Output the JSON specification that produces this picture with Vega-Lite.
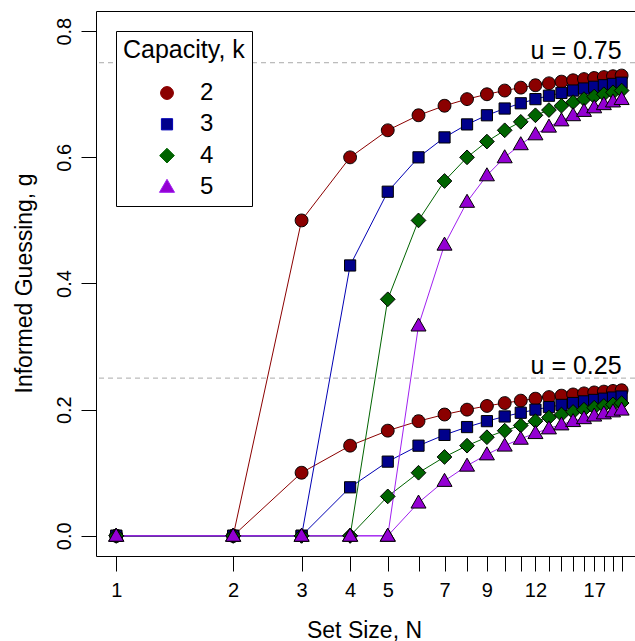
{
  "$schema": "https://vega.github.io/schema/vega-lite/v6.json",
  "width": 539,
  "height": 545,
  "autosize": "none",
  "padding": {"left": 96, "top": 11, "right": 0, "bottom": 85},
  "background": "white",
  "config": {
    "view": {"stroke": "black", "strokeWidth": 1},
    "font": "Liberation Sans",
    "axis": {"grid": false, "domain": false, "tickColor": "black", "tickWidth": 1, "tickSize": 15, "labelColor": "black", "titleColor": "black", "labelFont": "Liberation Sans", "titleFont": "Liberation Sans", "labelFontSize": 20, "titleFontSize": 23, "titleFontWeight": "normal"},
    "legend": {"strokeColor": "black", "fillColor": "white", "padding": 7, "titleFont": "Liberation Sans", "labelFont": "Liberation Sans", "titleFontSize": 25, "titleFontWeight": "normal", "titleColor": "black", "labelFontSize": 24, "labelColor": "black", "titlePadding": 18, "rowPadding": 7.3, "symbolOffset": 32, "labelOffset": 21, "symbolSize": 256, "symbolStrokeColor": "black", "symbolStrokeWidth": 1}
  },
  "datasets": {
    "refs": [{"u": 0.75, "label": "u = 0.75"}, {"u": 0.25, "label": "u = 0.25"}],
    "curves": [
      {"k":2,"u":0.75,"N":1,"g":0},{"k":2,"u":0.75,"N":2,"g":0},{"k":2,"u":0.75,"N":3,"g":0.5},{"k":2,"u":0.75,"N":4,"g":0.6},{"k":2,"u":0.75,"N":5,"g":0.6429},{"k":2,"u":0.75,"N":6,"g":0.6667},{"k":2,"u":0.75,"N":7,"g":0.6818},{"k":2,"u":0.75,"N":8,"g":0.6923},{"k":2,"u":0.75,"N":9,"g":0.7},{"k":2,"u":0.75,"N":10,"g":0.7059},{"k":2,"u":0.75,"N":11,"g":0.7105},{"k":2,"u":0.75,"N":12,"g":0.7143},{"k":2,"u":0.75,"N":13,"g":0.7174},{"k":2,"u":0.75,"N":14,"g":0.72},{"k":2,"u":0.75,"N":15,"g":0.7222},{"k":2,"u":0.75,"N":16,"g":0.7241},{"k":2,"u":0.75,"N":17,"g":0.7258},{"k":2,"u":0.75,"N":18,"g":0.7273},{"k":2,"u":0.75,"N":19,"g":0.7286},{"k":2,"u":0.75,"N":20,"g":0.7297},
      {"k":2,"u":0.25,"N":1,"g":0},{"k":2,"u":0.25,"N":2,"g":0},{"k":2,"u":0.25,"N":3,"g":0.1},{"k":2,"u":0.25,"N":4,"g":0.1429},{"k":2,"u":0.25,"N":5,"g":0.1667},{"k":2,"u":0.25,"N":6,"g":0.1818},{"k":2,"u":0.25,"N":7,"g":0.1923},{"k":2,"u":0.25,"N":8,"g":0.2},{"k":2,"u":0.25,"N":9,"g":0.2059},{"k":2,"u":0.25,"N":10,"g":0.2105},{"k":2,"u":0.25,"N":11,"g":0.2143},{"k":2,"u":0.25,"N":12,"g":0.2174},{"k":2,"u":0.25,"N":13,"g":0.22},{"k":2,"u":0.25,"N":14,"g":0.2222},{"k":2,"u":0.25,"N":15,"g":0.2241},{"k":2,"u":0.25,"N":16,"g":0.2258},{"k":2,"u":0.25,"N":17,"g":0.2273},{"k":2,"u":0.25,"N":18,"g":0.2286},{"k":2,"u":0.25,"N":19,"g":0.2297},{"k":2,"u":0.25,"N":20,"g":0.2308},
      {"k":3,"u":0.75,"N":1,"g":0},{"k":3,"u":0.75,"N":2,"g":0},{"k":3,"u":0.75,"N":3,"g":0},{"k":3,"u":0.75,"N":4,"g":0.4286},{"k":3,"u":0.75,"N":5,"g":0.5455},{"k":3,"u":0.75,"N":6,"g":0.6},{"k":3,"u":0.75,"N":7,"g":0.6316},{"k":3,"u":0.75,"N":8,"g":0.6522},{"k":3,"u":0.75,"N":9,"g":0.6667},{"k":3,"u":0.75,"N":10,"g":0.6774},{"k":3,"u":0.75,"N":11,"g":0.6857},{"k":3,"u":0.75,"N":12,"g":0.6923},{"k":3,"u":0.75,"N":13,"g":0.6977},{"k":3,"u":0.75,"N":14,"g":0.7021},{"k":3,"u":0.75,"N":15,"g":0.7059},{"k":3,"u":0.75,"N":16,"g":0.7091},{"k":3,"u":0.75,"N":17,"g":0.7119},{"k":3,"u":0.75,"N":18,"g":0.7143},{"k":3,"u":0.75,"N":19,"g":0.7164},{"k":3,"u":0.75,"N":20,"g":0.7183},
      {"k":3,"u":0.25,"N":1,"g":0},{"k":3,"u":0.25,"N":2,"g":0},{"k":3,"u":0.25,"N":3,"g":0},{"k":3,"u":0.25,"N":4,"g":0.0769},{"k":3,"u":0.25,"N":5,"g":0.1176},{"k":3,"u":0.25,"N":6,"g":0.1429},{"k":3,"u":0.25,"N":7,"g":0.16},{"k":3,"u":0.25,"N":8,"g":0.1724},{"k":3,"u":0.25,"N":9,"g":0.1818},{"k":3,"u":0.25,"N":10,"g":0.1892},{"k":3,"u":0.25,"N":11,"g":0.1951},{"k":3,"u":0.25,"N":12,"g":0.2},{"k":3,"u":0.25,"N":13,"g":0.2041},{"k":3,"u":0.25,"N":14,"g":0.2075},{"k":3,"u":0.25,"N":15,"g":0.2105},{"k":3,"u":0.25,"N":16,"g":0.2131},{"k":3,"u":0.25,"N":17,"g":0.2154},{"k":3,"u":0.25,"N":18,"g":0.2174},{"k":3,"u":0.25,"N":19,"g":0.2192},{"k":3,"u":0.25,"N":20,"g":0.2208},
      {"k":4,"u":0.75,"N":1,"g":0},{"k":4,"u":0.75,"N":2,"g":0},{"k":4,"u":0.75,"N":3,"g":0},{"k":4,"u":0.75,"N":4,"g":0},{"k":4,"u":0.75,"N":5,"g":0.375},{"k":4,"u":0.75,"N":6,"g":0.5},{"k":4,"u":0.75,"N":7,"g":0.5625},{"k":4,"u":0.75,"N":8,"g":0.6},{"k":4,"u":0.75,"N":9,"g":0.625},{"k":4,"u":0.75,"N":10,"g":0.6429},{"k":4,"u":0.75,"N":11,"g":0.6563},{"k":4,"u":0.75,"N":12,"g":0.6667},{"k":4,"u":0.75,"N":13,"g":0.675},{"k":4,"u":0.75,"N":14,"g":0.6818},{"k":4,"u":0.75,"N":15,"g":0.6875},{"k":4,"u":0.75,"N":16,"g":0.6923},{"k":4,"u":0.75,"N":17,"g":0.6964},{"k":4,"u":0.75,"N":18,"g":0.7},{"k":4,"u":0.75,"N":19,"g":0.7031},{"k":4,"u":0.75,"N":20,"g":0.7059},
      {"k":4,"u":0.25,"N":1,"g":0},{"k":4,"u":0.25,"N":2,"g":0},{"k":4,"u":0.25,"N":3,"g":0},{"k":4,"u":0.25,"N":4,"g":0},{"k":4,"u":0.25,"N":5,"g":0.0625},{"k":4,"u":0.25,"N":6,"g":0.1},{"k":4,"u":0.25,"N":7,"g":0.125},{"k":4,"u":0.25,"N":8,"g":0.1429},{"k":4,"u":0.25,"N":9,"g":0.1563},{"k":4,"u":0.25,"N":10,"g":0.1667},{"k":4,"u":0.25,"N":11,"g":0.175},{"k":4,"u":0.25,"N":12,"g":0.1818},{"k":4,"u":0.25,"N":13,"g":0.1875},{"k":4,"u":0.25,"N":14,"g":0.1923},{"k":4,"u":0.25,"N":15,"g":0.1964},{"k":4,"u":0.25,"N":16,"g":0.2},{"k":4,"u":0.25,"N":17,"g":0.2031},{"k":4,"u":0.25,"N":18,"g":0.2059},{"k":4,"u":0.25,"N":19,"g":0.2083},{"k":4,"u":0.25,"N":20,"g":0.2105},
      {"k":5,"u":0.75,"N":1,"g":0},{"k":5,"u":0.75,"N":2,"g":0},{"k":5,"u":0.75,"N":3,"g":0},{"k":5,"u":0.75,"N":4,"g":0},{"k":5,"u":0.75,"N":5,"g":0},{"k":5,"u":0.75,"N":6,"g":0.3333},{"k":5,"u":0.75,"N":7,"g":0.4615},{"k":5,"u":0.75,"N":8,"g":0.5294},{"k":5,"u":0.75,"N":9,"g":0.5714},{"k":5,"u":0.75,"N":10,"g":0.6},{"k":5,"u":0.75,"N":11,"g":0.6207},{"k":5,"u":0.75,"N":12,"g":0.6364},{"k":5,"u":0.75,"N":13,"g":0.6486},{"k":5,"u":0.75,"N":14,"g":0.6585},{"k":5,"u":0.75,"N":15,"g":0.6667},{"k":5,"u":0.75,"N":16,"g":0.6735},{"k":5,"u":0.75,"N":17,"g":0.6792},{"k":5,"u":0.75,"N":18,"g":0.6842},{"k":5,"u":0.75,"N":19,"g":0.6885},{"k":5,"u":0.75,"N":20,"g":0.6923},
      {"k":5,"u":0.25,"N":1,"g":0},{"k":5,"u":0.25,"N":2,"g":0},{"k":5,"u":0.25,"N":3,"g":0},{"k":5,"u":0.25,"N":4,"g":0},{"k":5,"u":0.25,"N":5,"g":0},{"k":5,"u":0.25,"N":6,"g":0.0526},{"k":5,"u":0.25,"N":7,"g":0.087},{"k":5,"u":0.25,"N":8,"g":0.1111},{"k":5,"u":0.25,"N":9,"g":0.129},{"k":5,"u":0.25,"N":10,"g":0.1429},{"k":5,"u":0.25,"N":11,"g":0.1538},{"k":5,"u":0.25,"N":12,"g":0.1628},{"k":5,"u":0.25,"N":13,"g":0.1702},{"k":5,"u":0.25,"N":14,"g":0.1765},{"k":5,"u":0.25,"N":15,"g":0.1818},{"k":5,"u":0.25,"N":16,"g":0.1864},{"k":5,"u":0.25,"N":17,"g":0.1905},{"k":5,"u":0.25,"N":18,"g":0.194},{"k":5,"u":0.25,"N":19,"g":0.1972},{"k":5,"u":0.25,"N":20,"g":0.2}
    ]
  },
  "layer": [
    {
      "data": {"name": "curves"},
      "mark": {"type": "line", "strokeWidth": 1},
      "encoding": {
        "x": {"field": "N", "type": "quantitative", "scale": {"type": "log", "domain": [0.887, 21.65], "nice": false},
              "axis": {"title": "Set Size, N", "values": [1,2,3,4,5,6,7,8,9,10,11,12,13,14,15,16,17,18,19,20], "labelExpr": "indexof([1,2,3,4,5,7,9,12,17], datum.value) >= 0 ? '' + datum.value : ''", "labelOverlap": false, "labelFlush": false, "labelPadding": 9, "titleX": 268, "titleY": 81, "titleBaseline": "alphabetic", "titleAnchor": "middle"}},
        "y": {"field": "g", "type": "quantitative", "scale": {"domain": [-0.032, 0.832], "nice": false, "zero": false},
              "axis": {"title": "Informed Guessing, g", "values": [0, 0.2, 0.4, 0.6, 0.8], "format": ".1f", "labelAngle": -90, "labelAlign": "center", "labelBaseline": "alphabetic", "labelPadding": 11, "titleAngle": -90, "titleAlign": "center", "titleBaseline": "alphabetic", "titleX": -65, "titleY": 272}},
        "stroke": {"field": "k", "type": "nominal", "scale": {"domain": [2, 3, 4, 5], "range": ["#8B0000", "#0000B4", "#006400", "#A020F0"]}, "legend": {"title": "Capacity, k", "orient": "top-left", "offset": 20, "symbolStrokeColor": "black", "encode": {"symbols": {"enter": {"stroke": {"value": "black"}}, "update": {"stroke": {"value": "black"}, "strokeWidth": {"value": 1}}}}}},
        "detail": {"field": "u", "type": "nominal"}
      }
    },
    {
      "data": {"name": "refs"},
      "mark": {"type": "rule", "color": "#aaaaaa", "strokeDash": [5, 4], "strokeWidth": 1},
      "encoding": {
        "y": {"field": "u", "type": "quantitative", "title": "Informed Guessing, g"}
      }
    },
    {
      "data": {"name": "refs"},
      "mark": {"type": "text", "align": "right", "baseline": "alphabetic", "dy": -4, "fontSize": 25, "font": "Liberation Sans", "color": "black"},
      "encoding": {
        "x": {"datum": 20, "type": "quantitative", "title": "Set Size, N"},
        "y": {"field": "u", "type": "quantitative", "title": "Informed Guessing, g"},
        "text": {"field": "label", "type": "nominal"}
      }
    },
    {
      "data": {"name": "curves"},
      "mark": {"type": "point", "filled": true, "stroke": "black", "strokeWidth": 1, "opacity": 1, "size": 256},
      "encoding": {
        "x": {"field": "N", "type": "quantitative", "title": "Set Size, N"},
        "y": {"field": "g", "type": "quantitative", "title": "Informed Guessing, g"},
        "fill": {"field": "k", "type": "nominal", "scale": {"domain": [2, 3, 4, 5], "range": ["#8B0000", "#00008B", "#006400", "#9400D3"]}, "legend": {"title": "Capacity, k", "orient": "top-left", "offset": 20, "symbolStrokeColor": "black", "encode": {"symbols": {"enter": {"stroke": {"value": "black"}}, "update": {"stroke": {"value": "black"}, "strokeWidth": {"value": 1}}}}}},
        "shape": {"field": "k", "type": "nominal", "scale": {"domain": [2, 3, 4, 5], "range": ["M-0.8,0A0.8,0.8,0,1,1,0.8,0A0.8,0.8,0,1,1,-0.8,0Z", "M-0.7,-0.7L0.7,-0.7L0.7,0.7L-0.7,0.7Z", "M0,-0.92L0.92,0L0,0.92L-0.92,0Z", "M0,-0.95L0.94,0.68L-0.94,0.68Z"]}, "legend": {"title": "Capacity, k", "orient": "top-left", "offset": 20, "symbolStrokeColor": "black", "encode": {"symbols": {"enter": {"stroke": {"value": "black"}}, "update": {"stroke": {"value": "black"}, "strokeWidth": {"value": 1}}}}}}
      }
    }
  ]
}
